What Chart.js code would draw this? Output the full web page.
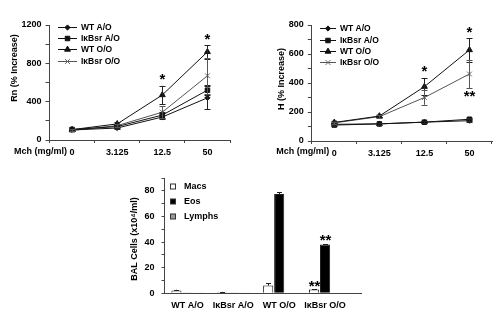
<!DOCTYPE html>
<html><head><meta charset="utf-8">
<script src="https://cdn.jsdelivr.net/npm/chart.js@4.4.1/dist/chart.umd.min.js"></script>
<style>
html,body{margin:0;padding:0;background:#fff;width:500px;height:312px;overflow:hidden;position:relative;}
canvas{position:absolute;}
</style></head><body>
<canvas id="rn" width="250" height="160" style="left:0px;top:0px"></canvas>
<canvas id="h" width="250" height="160" style="left:250px;top:0px"></canvas>
<canvas id="bal" width="300" height="152" style="left:100px;top:160px"></canvas>
<script>
// ---------- DATA ----------
const mchDoses = ['0', '3.125', '12.5', '50'];
const seriesNames = ['WT A/O', 'IκBsr A/O', 'WT O/O', 'IκBsr O/O'];

// Rn (% increase)
const rnWTAO    = [105, 125, 240, 440];
const rnWTAOErr = [8, 10, 25, 120];
const rnIkAO    = [110, 140, 260, 520];
const rnIkAOErr = [8, 10, 35, 55];
const rnWTOO    = [108, 168, 470, 920];
const rnWTOOErr = [10, 15, 95, 70];
const rnIkOO    = [100, 150, 290, 670];
const rnIkOOErr = [10, 15, 65, 190];
const rnStarsWTOO = ['', '', '*', '*'];

// H (% increase)
const hWTAO    = [115, 118, 130, 140];
const hWTAOErr = [8, 5, 8, 10];
const hIkAO    = [110, 118, 130, 150];
const hIkAOErr = [8, 5, 8, 12];
const hWTOO    = [128, 172, 375, 628];
const hWTOOErr = [8, 8, 60, 80];
const hIkOO    = [125, 168, 300, 462];
const hIkOOErr = [8, 8, 50, 98];
const hStarsWTOO = ['', '', '*', '*'];
const hStarsIkOO = ['', '', '', '**'];

// BAL cells (x10^4/ml)
const balGroups = ['WT A/O', 'IκBsr A/O', 'WT O/O', 'IκBsr O/O'];
const macs      = [2.2, 0.8, 6.0, 3.0];
const macsErr   = [0.6, 0.3, 1.8, 0.3];
const eos       = [0.15, 0.2, 77.5, 38];
const eosErr    = [0, 0, 1.5, 0.5];
const lymphs    = [0.1, 0.1, 0.5, 0.5];
const lymphsErr = [0, 0, 0, 0];
const balStarsMacs = ['', '', '', '**'];
const balStarsEos  = ['', '', '', '**'];

// ---------- STYLE ----------
const FONT = 'Liberation Sans, Arial, sans-serif';
Chart.defaults.font.family = FONT;
Chart.defaults.font.weight = 'bold';
Chart.defaults.font.size = 9;
Chart.defaults.color = '#000';
const AXIS = '#444';

const markerStyles = [
  {pointStyle: 'rectRot', radius: 2.6, color: '#111'},
  {pointStyle: 'rect', radius: 3.2, color: '#111'},
  {pointStyle: 'triangle', radius: 3.4, color: '#111'},
  {pointStyle: 'crossRot', radius: 3.4, color: '#666'}
];

// error bars + stars
const errorPlugin = {
  id: 'errbars',
  afterDatasetsDraw(chart) {
    const ctx = chart.ctx;
    const ys = chart.scales.y;
    chart.data.datasets.forEach((ds, i) => {
      if (!ds.errors) return;
      const meta = chart.getDatasetMeta(i);
      meta.data.forEach((el, j) => {
        const v = ds.data[j], e = ds.errors[j];
        const x = Math.round(el.x) + 0.5;
        const top = ys.getPixelForValue(v + e);
        const bot = ds.upOnly ? ys.getPixelForValue(v) : ys.getPixelForValue(v - e);
        ctx.save();
        ctx.strokeStyle = ds.errColor || '#222';
        ctx.lineWidth = 1;
        if (e > 0) {
          ctx.beginPath();
          ctx.moveTo(x, top); ctx.lineTo(x, bot);
          const cw = ds.capW || 3;
          ctx.moveTo(x - cw, Math.round(top) + 0.5); ctx.lineTo(x + cw, Math.round(top) + 0.5);
          if (!ds.upOnly) { ctx.moveTo(x - cw, Math.round(bot) + 0.5); ctx.lineTo(x + cw, Math.round(bot) + 0.5); }
          ctx.stroke();
        }
        ctx.fillStyle = '#000';
        ctx.font = 'bold 15px ' + FONT;
        ctx.textAlign = 'center';
        ctx.textBaseline = 'alphabetic';
        if (ds.starsAbove && ds.starsAbove[j]) {
          ctx.fillText(ds.starsAbove[j], x, top - ds.starGap + 8.5);
        }
        if (ds.starsBelow && ds.starsBelow[j]) {
          ctx.fillText(ds.starsBelow[j], x, bot + ds.starGapBelow + 8.5);
        }
        ctx.restore();
      });
    });
  }
};

// axis titles, lead text, legends
const decorPlugin = {
  id: 'decor',
  afterDraw(chart, args, o) {
    const ctx = chart.ctx;
    ctx.save();
    ctx.fillStyle = '#000';
    if (o.yTitle) {
      ctx.font = 'bold 9px ' + FONT;
      ctx.translate(o.yTitle.x, o.yTitle.y);
      ctx.rotate(-Math.PI / 2);
      ctx.textAlign = 'center';
      ctx.textBaseline = 'middle';
      ctx.fillText(o.yTitle.text, 0, 0);
      ctx.setTransform(1, 0, 0, 1, 0, 0);
    }
    if (o.xLead) {
      const xs = chart.scales.x;
      ctx.font = 'bold 9px ' + FONT;
      ctx.textAlign = 'right';
      ctx.textBaseline = 'middle';
      ctx.fillText(o.xLead, xs.getPixelForValue(0) - 5, o.xLeadY);
    }
    if (o.lineLegend) {
      const L = o.lineLegend;
      chart.data.datasets.forEach((ds, i) => {
        const y = Math.round(L.y0 + i * L.dy) + 0.5;
        ctx.strokeStyle = ds.borderColor;
        ctx.lineWidth = 1;
        ctx.beginPath(); ctx.moveTo(L.x0, y); ctx.lineTo(L.x1, y); ctx.stroke();
        const m = markerStyles[i];
        ctx.fillStyle = m.color; ctx.strokeStyle = m.color;
        Chart.helpers.drawPoint(ctx, {pointStyle: m.pointStyle, radius: m.radius, borderWidth: 1, rotation: 0}, (L.x0 + L.x1) / 2, y);
        ctx.fillStyle = '#000';
        ctx.font = 'bold 8.5px ' + FONT;
        ctx.textAlign = 'left';
        ctx.textBaseline = 'middle';
        ctx.fillText(ds.label, L.x1 + 4, y);
      });
    }
    if (o.boxLegend) {
      const L = o.boxLegend;
      chart.data.datasets.forEach((ds, i) => {
        const y = L.y0 + i * L.dy;
        ctx.fillStyle = ds.backgroundColor;
        ctx.strokeStyle = '#333';
        ctx.lineWidth = 1;
        ctx.fillRect(L.x - 2.5, y - 2.5, 5, 5);
        ctx.strokeRect(L.x - 2.5, y - 2.5, 5, 5);
        ctx.fillStyle = '#000';
        ctx.font = 'bold 9px ' + FONT;
        ctx.textAlign = 'left';
        ctx.textBaseline = 'middle';
        ctx.fillText(ds.label, L.x + 11, y);
      });
    }
    if (o.extendAxisTo) {
      const ca = chart.chartArea;
      ctx.strokeStyle = AXIS; ctx.lineWidth = 1;
      ctx.beginPath();
      ctx.moveTo(ca.right, Math.round(ca.bottom) + 0.5);
      ctx.lineTo(o.extendAxisTo, Math.round(ca.bottom) + 0.5);
      ctx.stroke();
    }
    ctx.restore();
  }
};

function lineDatasets(vals, errs, starsAbove, starsBelow) {
  return vals.map((v, i) => ({
    label: seriesNames[i],
    data: v,
    errors: errs[i],
    starsAbove: starsAbove[i],
    starsBelow: starsBelow[i],
    borderColor: i === 3 ? '#555' : '#111',
    borderWidth: 1,
    pointStyle: markerStyles[i].pointStyle,
    pointRadius: markerStyles[i].radius,
    pointBackgroundColor: markerStyles[i].color,
    pointBorderColor: markerStyles[i].color,
    pointBorderWidth: 1,
    errColor: i === 3 ? '#555' : '#222',
    capW: 3,
    starGap: 10,
    starGapBelow: 4,
    tension: 0,
    fill: false
  }));
}

function lineOptions(ymax, step, labelStep, yWidth, xHeight, pad, decor) {
  return {
    responsive: false,
    animation: false,
    layout: {padding: pad},
    plugins: {legend: {display: false}, tooltip: {enabled: false}, decor: decor},
    scales: {
      x: {
        type: 'category',
        offset: true,
        grid: {offset: true, drawOnChartArea: false, tickLength: 3, color: AXIS},
        border: {color: AXIS},
        ticks: {padding: 4, color: '#000', maxRotation: 0, minRotation: 0, font: {size: 9, weight: 'bold'}},
        afterFit(s) { s.height = xHeight; }
      },
      y: {
        min: 0, max: ymax,
        grid: {drawOnChartArea: false, tickLength: 4, color: AXIS},
        border: {color: AXIS},
        ticks: {stepSize: step, autoSkip: false, padding: 4, color: '#000', font: {size: 9, weight: 'bold'},
          callback: v => (v % labelStep === 0 ? String(v) : '')},
        afterFit(s) { s.width = yWidth; }
      }
    }
  };
}

// ---------- Rn chart ----------
new Chart(document.getElementById('rn'), {
  type: 'line',
  data: {
    labels: mchDoses,
    datasets: lineDatasets(
      [rnWTAO, rnIkAO, rnWTOO, rnIkOO],
      [rnWTAOErr, rnIkAOErr, rnWTOOErr, rnIkOOErr],
      [null, null, rnStarsWTOO, null],
      [null, null, null, null])
  },
  options: lineOptions(1200, 200, 400, 49.5, 20, {left: 0, top: 25, right: 20, bottom: 0}, {
    yTitle: {text: 'Rn (% Increase)', x: 15, y: 68},
    xLead: 'Mch (mg/ml)', xLeadY: 152,
    lineLegend: {x0: 58, x1: 77, y0: 26.5, dy: 11.4}
  }),
  plugins: [errorPlugin, decorPlugin]
});

// ---------- H chart ----------
new Chart(document.getElementById('h'), {
  type: 'line',
  data: {
    labels: mchDoses,
    datasets: lineDatasets(
      [hWTAO, hIkAO, hWTOO, hIkOO],
      [hWTAOErr, hIkAOErr, hWTOOErr, hIkOOErr],
      [null, null, hStarsWTOO, null],
      [null, null, null, hStarsIkOO])
  },
  options: lineOptions(800, 100, 200, 61.8, 19, {left: 0, top: 25, right: 8, bottom: 0}, {
    yTitle: {text: 'H (% Increase)', x: 31.5, y: 79},
    xLead: 'Mch (mg/ml)', xLeadY: 152,
    lineLegend: {x0: 70, x1: 86, y0: 28.3, dy: 11.3}
  }),
  plugins: [errorPlugin, decorPlugin]
});

// ---------- BAL chart ----------
function barDs(label, data, errs, color, stars) {
  return {
    label: label, data: data, errors: errs, upOnly: true,
    backgroundColor: color, borderColor: '#222', borderWidth: 1,
    starsAbove: stars, starGap: 7, errColor: '#222', capW: 2.5,
    categoryPercentage: 0.72, barPercentage: 0.92
  };
}
new Chart(document.getElementById('bal'), {
  type: 'bar',
  data: {
    labels: balGroups,
    datasets: [
      barDs('Macs', macs, macsErr, '#ffffff', balStarsMacs),
      barDs('Eos', eos, eosErr, '#000000', balStarsEos),
      barDs('Lymphs', lymphs, lymphsErr, '#9a9a9a', null)
    ]
  },
  options: {
    responsive: false,
    animation: false,
    layout: {padding: {left: 0, top: 18, right: 52, bottom: 0}},
    plugins: {legend: {display: false}, tooltip: {enabled: false},
      decor: {
        yTitle: {text: 'BAL Cells (x10⁴/ml)', x: 35, y: 79},
        boxLegend: {x: 73, y0: 26.5, dy: 15},
        extendAxisTo: 262
      }},
    scales: {
      x: {
        grid: {display: true, drawOnChartArea: false, drawTicks: false, color: AXIS},
        border: {color: AXIS},
        ticks: {padding: 7, color: '#000', maxRotation: 0, minRotation: 0, autoSkip: false, font: {size: 9, weight: 'bold'}},
        afterFit(s) { s.height = 18.7; }
      },
      y: {
        min: 0, max: 90,
        grid: {drawOnChartArea: false, tickLength: 3, color: AXIS},
        border: {color: AXIS},
        ticks: {stepSize: 10, autoSkip: false, padding: 7, color: '#000', font: {size: 9, weight: 'bold'},
          callback: v => (v % 20 === 0 ? String(v) : '')},
        afterFit(s) { s.width = 64.5; }
      }
    }
  },
  plugins: [errorPlugin, decorPlugin]
});
</script>
</body></html>
